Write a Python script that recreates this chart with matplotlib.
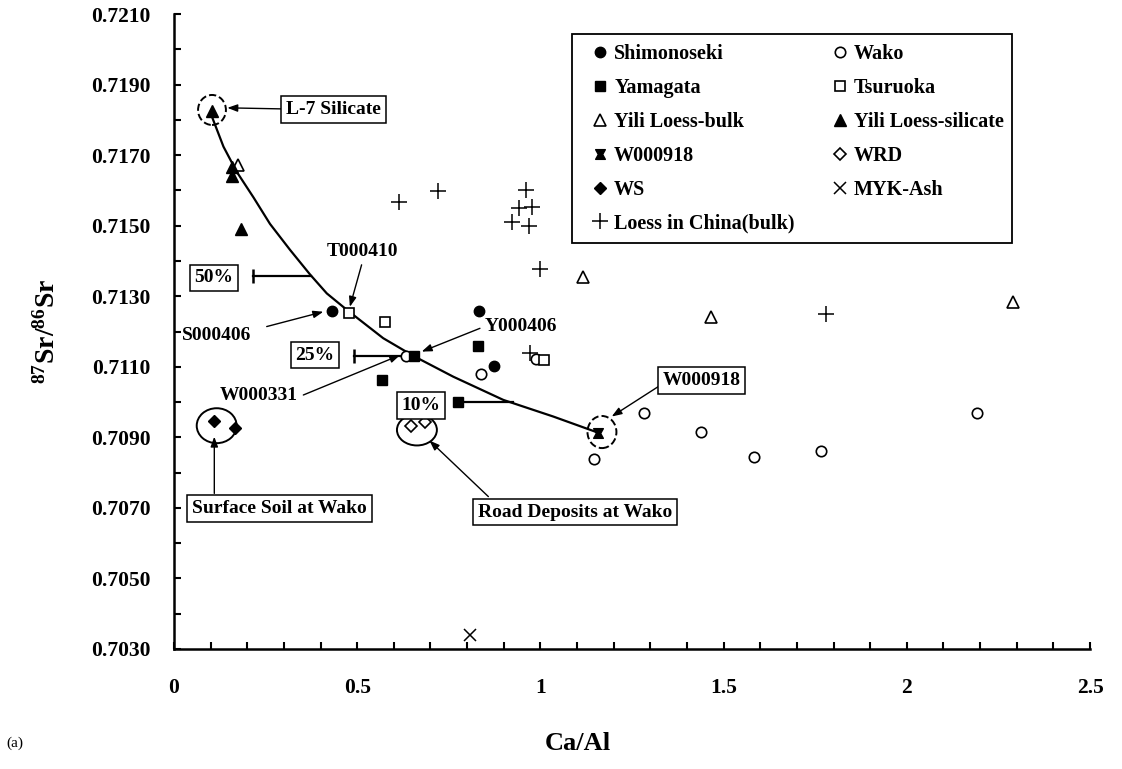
import matplotlib
matplotlib.use("Agg")
import matplotlib.pyplot as plt
from matplotlib.patches import Ellipse, Rectangle
from matplotlib.path import Path
from matplotlib.ticker import MultipleLocator, FuncFormatter

plt.rcParams["font.family"] = "Liberation Serif"
plt.rcParams["font.weight"] = "bold"
plt.rcParams["mathtext.fontset"] = "custom"
plt.rcParams["mathtext.rm"] = "Liberation Serif:weight=bold"
plt.rcParams["mathtext.bf"] = "Liberation Serif:weight=bold"

# --- dados (Ca/Al, 87Sr/86Sr) ---
shim_x = [0.430, 0.833, 0.872]
shim_y = [0.71259, 0.71257, 0.71102]
wako_x = [0.633, 0.838, 0.988, 1.146, 1.283, 1.437, 1.583, 1.766, 2.191]
wako_y = [0.71131, 0.71079, 0.71121, 0.70839, 0.70968, 0.70914, 0.70845, 0.70861, 0.70968]
yama_x = [0.567, 0.655, 0.776, 0.831]
yama_y = [0.71063, 0.71131, 0.70999, 0.71159]
tsur_x = [0.478, 0.576, 1.011]
tsur_y = [0.71252, 0.71228, 0.71119]
ylb_x = [0.174, 1.116, 1.465, 2.291]
ylb_y = [0.71672, 0.71355, 0.71240, 0.71283]
yls_x = [0.105, 0.157, 0.157, 0.183]
yls_y = [0.71826, 0.71667, 0.71641, 0.71490]
w918_x = [1.158]
w918_y = [0.70913]
wrd_x = [0.646, 0.685]
wrd_y = [0.70932, 0.70944]
ws_x = [0.110, 0.166]
ws_y = [0.70946, 0.70927]
myk_x = [0.807]
myk_y = [0.70340]
loess_x = [0.615, 0.721, 0.922, 0.942, 0.961, 0.970, 0.976, 0.999, 0.972, 1.779]
loess_y = [0.71568, 0.71598, 0.71511, 0.71551, 0.71601, 0.71499, 0.71554, 0.71376, 0.71140, 0.71250]

# curva de mistura (lida ponto a ponto)
curva_x = [0.105, 0.135, 0.171, 0.217, 0.262, 0.317, 0.371, 0.417, 0.471, 0.571,
           0.653, 0.762, 0.899, 1.035, 1.158]
curva_y = [0.71805, 0.71724, 0.71653, 0.71580, 0.71505, 0.71431, 0.71362, 0.71308,
           0.71262, 0.71181, 0.71131, 0.71072, 0.71006, 0.70959, 0.70913]

# marcador especial do W000918 (quadrado "gravata")
W_MARK = Path([(-1, -1), (1, -1), (0.45, 0), (1, 1), (-1, 1), (-0.45, 0), (-1, -1)],
              [Path.MOVETO] + [Path.LINETO] * 5 + [Path.CLOSEPOLY])

fig = plt.figure(figsize=(11.22, 7.69), dpi=100)
ax = fig.add_axes([174 / 1122, 1 - 649 / 769, 916 / 1122, 635 / 769])

ax.plot(curva_x, curva_y, "-", color="black", lw=1.6, zorder=2)

k = dict(ls="none", color="black", zorder=3)
h_shim, = ax.plot(shim_x, shim_y, marker="o", ms=7.5, label="Shimonoseki", **k)
h_wako, = ax.plot(wako_x, wako_y, marker="o", ms=7.5, mfc="white", mew=1.2, label="Wako", **k)
h_yama, = ax.plot(yama_x, yama_y, marker="s", ms=7.5, label="Yamagata", **k)
h_tsur, = ax.plot(tsur_x, tsur_y, marker="s", ms=7.5, mfc="white", mew=1.2, label="Tsuruoka", **k)
h_ylb, = ax.plot(ylb_x, ylb_y, marker="^", ms=8, mfc="white", mew=1.2, label="Yili Loess-bulk", **k)
h_yls, = ax.plot(yls_x, yls_y, marker="^", ms=8, label="Yili Loess-silicate", **k)
h_w918, = ax.plot(w918_x, w918_y, marker=W_MARK, ms=7, label="W000918", **k)
h_wrd, = ax.plot(wrd_x, wrd_y, marker="D", ms=6, mfc="white", mew=1.2, label="WRD", **k)
h_ws, = ax.plot(ws_x, ws_y, marker="D", ms=6, label="WS", **k)
h_myk, = ax.plot(myk_x, myk_y, marker="x", ms=9, mew=1.1, label="MYK-Ash", **k)
h_loess, = ax.plot(loess_x, loess_y, marker="+", ms=12, mew=1.1, label="Loess in China(bulk)", **k)

# eixos
ax.set_xlim(0, 2.5)
ax.set_ylim(0.7030, 0.7210)
for s in ["top", "right"]:
    ax.spines[s].set_visible(False)
for s in ["left", "bottom"]:
    ax.spines[s].set_linewidth(1.8)
ax.xaxis.set_major_locator(MultipleLocator(0.5))
ax.xaxis.set_minor_locator(MultipleLocator(0.1))
ax.yaxis.set_major_locator(MultipleLocator(0.002, offset=0.001))
ax.yaxis.set_minor_locator(MultipleLocator(0.001))
ax.xaxis.set_major_formatter(FuncFormatter(lambda v, p: "%g" % round(v, 2)))
ax.yaxis.set_major_formatter(FuncFormatter(lambda v, p: "%.4f" % v))
ax.tick_params(which="both", direction="in", length=5, width=1.5)
ax.tick_params(axis="x", pad=21, labelsize=15.5)
ax.tick_params(axis="y", pad=17, labelsize=15.5)

ax.set_ylabel(r"$\mathbf{^{87}Sr/^{86}Sr}$", fontsize=20, labelpad=22)
fig.text(0.515, 0.033, "Ca/Al", fontsize=19, ha="center", va="center")
fig.text(0.006, 0.033, "(a)", fontsize=11, fontweight="normal", ha="left", va="center")

# legenda (sem moldura; a moldura e desenhada a parte)
leg = ax.legend(handles=[h_shim, h_yama, h_ylb, h_w918, h_ws, h_loess,
                         h_wako, h_tsur, h_yls, h_wrd, h_myk],
                ncol=2, loc="upper left",
                bbox_to_anchor=(592 / 1122, 1 - 44 / 769), bbox_transform=fig.transFigure,
                borderaxespad=0, borderpad=0, fontsize=14.5, frameon=False,
                handlelength=0.8, handletextpad=0.3, labelspacing=0.69,
                columnspacing=1.84)
fig.patches.append(Rectangle((572 / 1122, 1 - 243 / 769), 440 / 1122, 209 / 769,
                             transform=fig.transFigure, fill=False, ec="black", lw=1.3))

# elipses
elipses = [
    ((0.1037, 0.71828), 0.076, 0.00085, "--"),
    ((1.168, 0.70915), 0.079, 0.00091, "--"),
    ((0.1165, 0.70933), 0.109, 0.00099, "-"),
    ((0.663, 0.70921), 0.109, 0.00088, "-"),
]
for c, w, hgt, st in elipses:
    ax.add_patch(Ellipse(c, w, hgt, fill=False, ec="black", lw=1.4, ls=st, zorder=4))

caixa = dict(boxstyle="square,pad=0.25", fc="white", ec="black", lw=1.1)
seta = dict(arrowstyle="-|>,head_length=0.6,head_width=0.22", color="black", lw=1.0,
            shrinkA=0, shrinkB=0)

# rotulos com caixa
rotulos_caixa = [
    ("L-7 Silicate", 0.436, 0.71829),
    ("50%", 0.109, 0.71352),
    ("25%", 0.385, 0.71133),
    ("10%", 0.674, 0.70991),
    ("W000918", 1.440, 0.71061),
    ("Surface Soil at Wako", 0.2885, 0.70698),
    ("Road Deposits at Wako", 1.094, 0.70688),
]
for t, x, y in rotulos_caixa:
    ax.text(x, y, t, fontsize=14, ha="center", va="center", bbox=caixa, zorder=6)

# rotulos sem caixa
rotulos_livres = [
    ("T000410", 0.515, 0.71428),
    ("S000406", 0.115, 0.71190),
    ("Y000406", 0.947, 0.71214),
    ("W000331", 0.230, 0.71020),
]
for t, x, y in rotulos_livres:
    ax.text(x, y, t, fontsize=14, ha="center", va="center", zorder=6)

# setas (cauda -> ponta)
setas = [
    ((0.294, 0.71831), (0.1455, 0.71834)),
    ((0.512, 0.71389), (0.480, 0.71270)),
    ((0.253, 0.71214), (0.4075, 0.71256)),
    ((0.835, 0.71209), (0.676, 0.71143)),
    ((0.353, 0.71020), (0.617, 0.71133)),
    ((1.322, 0.71044), (1.1946, 0.70959)),
    ((0.110, 0.70741), (0.110, 0.70902)),
    ((0.858, 0.70732), (0.697, 0.70891)),
]
for (x0, y0), (x1, y1) in setas:
    ax.annotate("", xy=(x1, y1), xytext=(x0, y0), arrowprops=seta, zorder=5)

# linhas das porcentagens ate a curva
linhas_pct = [
    (0.2164, 0.3747, 0.71357, True),
    (0.492, 0.626, 0.71131, True),
    (0.776, 0.926, 0.70999, False),
]
for xa, xb, y, cap in linhas_pct:
    ax.plot([xa, xb], [y, y], "-", color="black", lw=1.6, zorder=2)
    if cap:
        ax.plot([xa], [y], marker="|", ms=10, mew=1.8, color="black", zorder=2)

fig.savefig("out.png", dpi=100)
